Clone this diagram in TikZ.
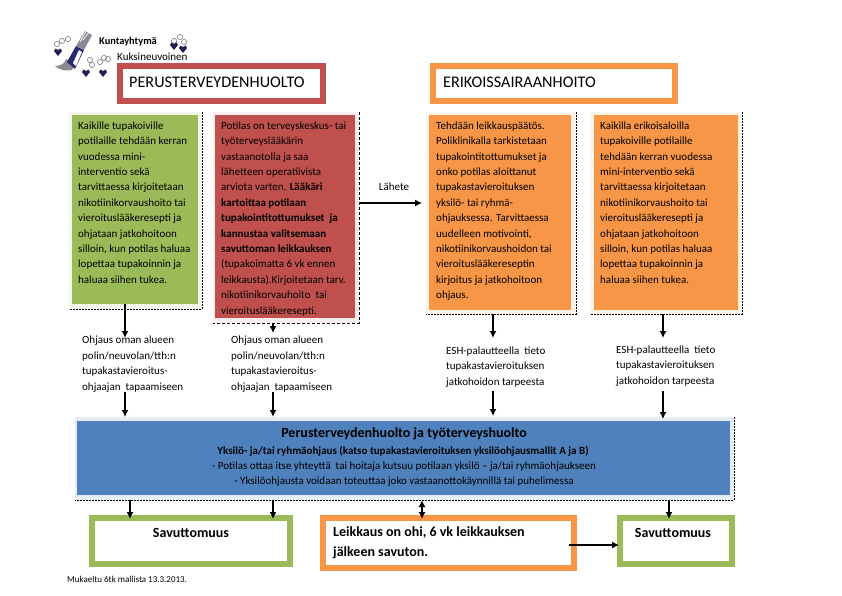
\documentclass[tikz,border=0pt]{standalone}
\usepackage{fontspec}
\setmainfont{Carlito}
\usetikzlibrary{arrows.meta,positioning}
\definecolor{perusred}{HTML}{C0504D}
\definecolor{erikorange}{HTML}{F79646}
\definecolor{savgreen}{HTML}{9BBB59}
\definecolor{ohjblue}{HTML}{4F81BD}
\definecolor{logoblue}{HTML}{2A2A6E}
\definecolor{logogray}{HTML}{8A8A92}
\tikzset{
	headbox/.style={draw=#1, line width=6pt, fill=white, inner sep=0pt},
	dashline/.style={dash pattern=on 2pt off 1pt, line width=0.6pt},
	body/.style={align=left, anchor=north west, inner sep=0pt, font=\fontsize{11}{15.4}\selectfont},
	arrowline/.style={-{Latex[length=7pt,width=7pt]}, line width=1.5pt},
	blueline/.style={inner sep=0pt, font=\fontsize{11}{13}\selectfont},
	boldline/.style={inner sep=0pt, font=\fontsize{14}{16}\bfseries\selectfont},
	headtext/.style={anchor=west, inner sep=0pt, font=\fontsize{16.2}{18}\selectfont},
}
\begin{document}
\begin{tikzpicture}[x=1pt,y=-1pt]
	\useasboundingbox (0,0) rectangle (842,595);
	% logo
	\fill[logogray] (55,66) .. controls (60,71) and (68,71) .. (72,70) -- (75,63) -- (66,59) .. controls (65,64) and (60,66) .. (55,66) -- cycle;
	\fill[logoblue] (67,62) -- (76,46) -- (84,50) -- (75,69) -- cycle;
	\fill[white] (73,63) -- (79,50) -- (82,52) -- (76,66) -- cycle;
	\fill[logogray] (76,46) -- (85,31) -- (92,35) -- (84,50) -- cycle;
	\draw[white, line width=0.7pt] (83,40) -- (90,31);
	\draw[white, line width=0.7pt] (80,42) -- (87,30);
	\foreach \x/\y in {62/41, 68/39, 57/44, 90/60, 92/65, 100/62, 108/59, 104/58, 180/37, 174/41, 184/42}
		\draw[logogray, line width=0.7pt] (\x,\y) circle (2.6pt);
	\foreach \x/\y in {58/52, 86/73, 103/73, 183/49, 174/46}
		\fill[logoblue!75!black] (\x,\y+4) -- ++(-4,-5) -- ++(1.5,-2.5) -- ++(2.5,1.5) -- ++(2.5,-1.5) -- ++(1.5,2.5) -- cycle;
	\node[anchor=west, inner sep=0pt, font=\fontsize{10.4}{11}\bfseries\selectfont] (logoa) at (99,42) {Kuntayhtymä};
	\node[anchor=west, inner sep=0pt, font=\fontsize{11}{12}\selectfont] (logob) at (117,57) {Kuksineuvoinen};

	% headers
	\draw[headbox=perusred] (120,66) rectangle (323,101);
	\node[headtext] (perus) at (129,82) {PERUSTERVEYDENHUOLTO};
	\draw[headbox=erikorange] (433,66) rectangle (675,101);
	\node[headtext] (erik) at (443,82) {ERIKOISSAIRAANHOITO};

	% text boxes
	\fill[savgreen!12] (69,112) rectangle (202,309);
	\fill[perusred!10] (213,112) rectangle (359,323);
	\fill[erikorange!12] (426,112) rectangle (576,314);
	\fill[erikorange!12] (590,112) rectangle (742,314);
	\fill[ohjblue!14] (75,417) rectangle (734,500);
	\fill[savgreen] (72,115) rectangle (198,304);
	\fill[perusred] (215,115) rectangle (355,318);
	\fill[erikorange] (429,115) rectangle (571,310);
	\fill[erikorange] (594,115) rectangle (738,310);
	\fill[ohjblue] (77,421) rectangle (730,495);
	% shadow lines
	\draw[dashline] (202,112) -- (202,309) -- (69,309);
	\draw[dash pattern=on 3pt off 2pt, line width=1pt] (359,112) -- (359,323) -- (213,323);
	\draw[dashline] (576,112) -- (576,314) -- (426,314);
	\draw[dashline] (742,112) -- (742,314) -- (590,314);
	\draw[dashline] (734,417) -- (734,500) -- (75,500);

	\node[body] (kaikille) at (78,121.5) {Kaikille tupakoiville\\potilaille tehdään kerran\\vuodessa mini-\\interventio sekä\\tarvittaessa kirjoitetaan\\nikotiinikorvaushoito tai\\vieroituslääkeresepti ja\\ohjataan jatkohoitoon\\silloin, kun potilas haluaa\\lopettaa tupakoinnin ja\\haluaa siihen tukea.};
	\node[body] (potilas) at (221,121.5) {Potilas on terveyskeskus- tai\\työterveyslääkärin\\vastaanotolla ja saa\\lähetteen operatiivista\\arviota varten. \textbf{Lääkäri}\\\textbf{kartoittaa potilaan}\\\textbf{tupakointitottumukset\ \ ja}\\\textbf{kannustaa valitsemaan}\\\textbf{savuttoman leikkauksen}\\(tupakoimatta 6 vk ennen\\leikkausta).Kirjoitetaan tarv.\\nikotiinikorvauhoito\ \ tai\\vieroituslääkeresepti.};
	\node[body] (tehdaan) at (436,121.5) {Tehdään leikkauspäätös.\\Poliklinikalla tarkistetaan\\tupakointitottumukset ja\\onko potilas aloittanut\\tupakastavieroituksen\\yksilö- tai ryhmä-\\ohjauksessa. Tarvittaessa\\uudelleen motivointi,\\nikotiinikorvaushoidon tai\\vieroituslääkereseptin\\kirjoitus ja jatkohoitoon\\ohjaus.};
	\node[body] (kaikilla) at (600,121.5) {Kaikilla erikoisaloilla\\tupakoiville potilaille\\tehdään kerran vuodessa\\mini-interventio sekä\\tarvittaessa kirjoitetaan\\nikotiinikorvaushoito tai\\vieroituslääkeresepti ja\\ohjataan jatkohoitoon\\silloin, kun potilas haluaa\\lopettaa tupakoinnin ja\\haluaa siihen tukea.};

	% middle texts
	\node[body] (ohja) at (82,336) {Ohjaus oman alueen\\polin/neuvolan/tth:n\\tupakastavieroitus-\\ohjaajan\ \ tapaamiseen};
	\node[body] (ohjb) at (231,336) {Ohjaus oman alueen\\polin/neuvolan/tth:n\\tupakastavieroitus-\\ohjaajan\ \ tapaamiseen};
	\node[body] (esha) at (446,346.5) {ESH-palautteella\ \ tieto\\tupakastavieroituksen\\jatkohoidon tarpeesta};
	\node[body] (eshb) at (616,345.5) {ESH-palautteella\ \ tieto\\tupakastavieroituksen\\jatkohoidon tarpeesta};
	\node[blueline] (lahete) at (394,187) {Lähete};

	% blue box
	\node[inner sep=0pt, font=\fontsize{14}{16}\bfseries\selectfont] (ohjtitle) at (404,434) {Perusterveydenhuolto ja työterveyshuolto};
	\node[blueline, font=\fontsize{11}{13}\bfseries\selectfont] (ohjb1) at (403,451) {Yksilö- ja/tai ryhmäohjaus (katso tupakastavieroituksen yksilöohjausmallit A ja B)};
	\node[blueline] (ohjb2) at (404,467) {- Potilas ottaa itse yhteyttä\ \ tai hoitaja kutsuu potilaan yksilö – ja/tai ryhmäohjaukseen};
	\node[blueline] (ohjb3) at (404,482) {- Yksilöohjausta voidaan toteuttaa joko vastaanottokäynnillä tai puhelimessa};

	% bottom boxes
	\draw[headbox=savgreen] (92,518) rectangle (290,564);
	\node[boldline] (sava) at (191,533) {Savuttomuus};
	\draw[headbox=erikorange] (323,518) rectangle (574,568);
	\node[boldline, anchor=west] (leika) at (333,533) {Leikkaus on ohi, 6 vk leikkauksen};
	\node[boldline, anchor=west] (leikb) at (333,553) {jälkeen savuton.};
	\draw[headbox=savgreen] (620,518) rectangle (732,564);
	\node[boldline] (savb) at (673,533) {Savuttomuus};
	\node[anchor=west, inner sep=0pt, font=\fontsize{9}{10}\selectfont] (mukaeltu) at (67,579) {Mukaeltu 6tk mallista 13.3.2013.};

	% arrows
	\foreach \x/\ya/\yb in {125/304/338, 273/323/333, 493/314/338, 663/314/338, 125/392/417, 273/392/417, 493/391/416, 663/391/419, 130/500/519, 273/500/519, 669/500/519}
		\draw[arrowline] (\x,\ya) -- (\x,\yb);
	\draw[{Latex[length=7pt,width=7pt]}-{Latex[length=7pt,width=7pt]}, line width=1.5pt] (422,500) -- (422,519);
	\draw[arrowline, line width=1.1pt] (360,203) -- (422,203);
	\draw[arrowline, line width=1.1pt] (569,545) -- (619,545);
\end{tikzpicture}
\end{document}
